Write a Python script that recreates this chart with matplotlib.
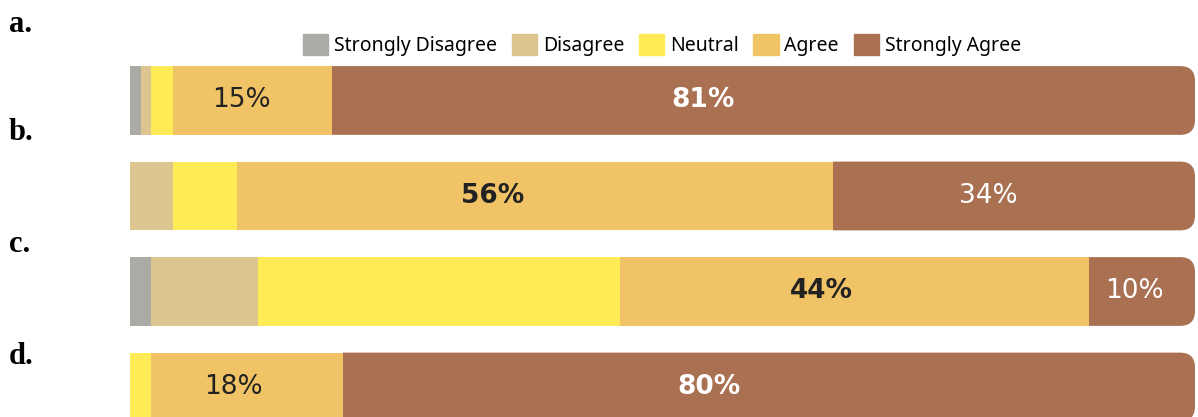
import matplotlib.pyplot as plt
from matplotlib.patches import FancyBboxPatch, Patch, Rectangle
import numpy as np

categories = ['Strongly Disagree', 'Disagree', 'Neutral', 'Agree', 'Strongly Agree']
colors = ['#abaaa4', '#dcc58e', '#ffeb55', '#f0c466', '#a97152']
row_labels = ['a.', 'b.', 'c.', 'd.']

# percent per answer for each question (a..d)
strongly_disagree = [1, 0, 2, 0]
disagree = [1, 4, 10, 0]
neutral = [2, 6, 34, 2]
agree = [15, 56, 44, 18]
strongly_agree = [81, 34, 10, 80]

# which segments get a printed value: (row, column, text colour, weight)
shown = [
    (0, 3, '#222222', 'normal'), (0, 4, 'white', 'bold'),
    (1, 3, '#222222', 'bold'), (1, 4, 'white', 'normal'),
    (2, 3, '#222222', 'bold'), (2, 4, 'white', 'normal'),
    (3, 3, '#222222', 'normal'), (3, 4, 'white', 'bold'),
]

data = np.array([strongly_disagree, disagree, neutral, agree, strongly_agree]).T

W, H = 1198, 417
fig = plt.figure(figsize=(W / 100, H / 100), dpi=100)
ax = fig.add_axes([130 / W, 0, 1065 / W, 1])
ax.set_xlim(0, 100)
ax.set_ylim(3.314, -1.052)
ax.axis('off')

bar_h = 0.72
y = np.arange(len(row_labels))
# ratio of y data units to x data units for one pixel
aspect = (4.366 / H) / (100 / 1065)

for i in y:
    row = data[i]
    lefts = np.concatenate([[0], np.cumsum(row)[:-1]])
    for j in range(len(row) - 1):
        if row[j] > 0:
            ax.barh(i, row[j], left=lefts[j], height=bar_h, color=colors[j], zorder=2)
    # last segment: rounded box, left corners clipped off so only the right end is round
    last = len(row) - 1
    box = FancyBboxPatch((lefts[last] - 3, i - bar_h / 2), row[last] + 3, bar_h,
                         boxstyle='round,pad=0,rounding_size=1.4',
                         mutation_aspect=aspect, fc=colors[last], ec='none', zorder=1)
    ax.add_patch(box)
    clip = Rectangle((lefts[last], i - bar_h), row[last] + 1, 2 * bar_h,
                     transform=ax.transData)
    box.set_clip_path(clip)

for i, j, tc, w in shown:
    row = data[i]
    left = row[:j].sum()
    ax.text(left + row[j] * 0.43, i, f'{row[j]}%', ha='center', va='center',
            color=tc, fontsize=19, fontweight=w, family='DejaVu Sans', zorder=3)

label_y = [24, 133, 245, 356]
for lab, py in zip(row_labels, label_y):
    fig.text(9 / W, 1 - py / H, lab, ha='left', va='center',
             fontsize=22, fontweight='bold', family='Liberation Serif')

handles = [Patch(color=c) for c in colors]
fig.legend(handles, categories, loc='center', bbox_to_anchor=(662 / W, 1 - 45 / H),
           ncol=5, frameon=False, prop={'family': 'Noto Sans', 'size': 14},
           handlelength=1.3, handleheight=1.3, handletextpad=0.3, columnspacing=0.75,
           borderpad=0)

fig.savefig('out.png', dpi=100)
